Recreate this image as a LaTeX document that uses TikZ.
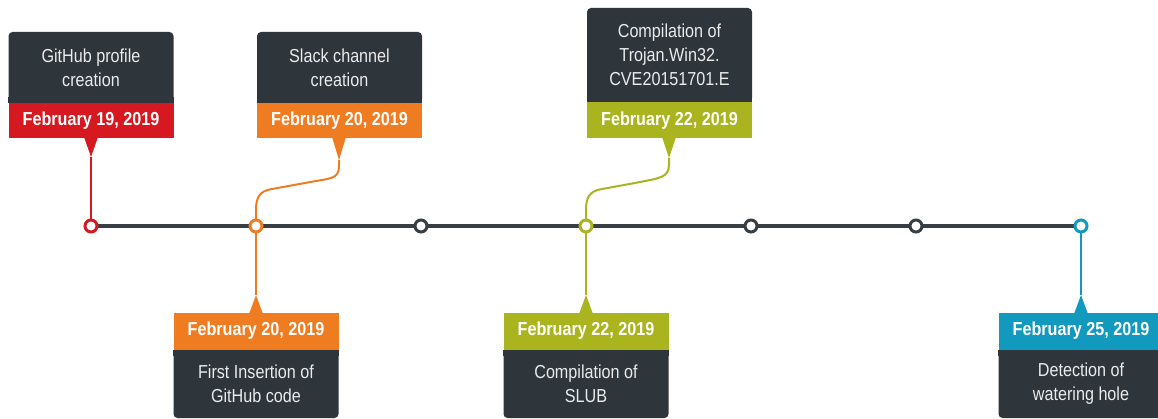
\documentclass[tikz,border=0pt]{standalone}
\usepackage{fontspec}
\setmainfont{Liberation Sans}[FakeStretch=0.86]
\definecolor{boxdark}{RGB}{46,53,59}
\definecolor{linedark}{RGB}{55,62,68}
\definecolor{cred}{RGB}{214,24,32}
\definecolor{corange}{RGB}{240,124,34}
\definecolor{cgreen}{RGB}{170,180,30}
\definecolor{cblue}{RGB}{18,154,190}
\definecolor{ctext}{RGB}{235,235,235}
\begin{document}
\begin{tikzpicture}[x=1pt,y=-1pt,
  darkbox/.style={fill=boxdark, rounded corners=4pt, minimum width=165pt, inner sep=0pt,
    text=ctext, align=center, font=\fontsize{18.8}{24}\selectfont},
  band/.style={fill=#1, minimum width=165pt, inner sep=0pt, text=white,
    font=\bfseries\fontsize{18.8}{22}\selectfont},
  dot/.style={circle, draw=#1, fill=white, line width=3pt, minimum size=12pt, inner sep=0pt},
  conn/.style={draw=#1, line width=2pt},
  ptr/.style={fill=#1}]
\useasboundingbox (0,0) rectangle (1158,419);
\clip (0,0) rectangle (1158,419);

% timeline dots (coordinates)
\coordinate (c1p) at (91,226);
\coordinate (c7p) at (1081,226);
\draw[linedark, line width=3.2pt] (c1p) -- (c7p);

% pointer tips
\coordinate (p1) at (91,157);
\coordinate (p2) at (339,160);
\coordinate (p3) at (669,158);
\coordinate (p4) at (256,295);
\coordinate (p5) at (586,295);
\coordinate (p6) at (1081,295);

% connectors
\draw[conn=cred] (p1) -- (c1p);
\draw[conn=corange] (p2) -- ++(0,6) .. controls +(0,14) and (330,178) .. (305,183)
   -- (272,189) .. controls (259,191) and (256,198) .. (256,210) -- (256,226);
\draw[conn=cgreen] (p3) -- ++(0,6) .. controls +(0,14) and (660,178) .. (635,183)
   -- (602,189) .. controls (589,191) and (586,198) .. (586,210) -- (586,226);
\draw[conn=corange] (256,226) -- (p4);
\draw[conn=cgreen] (586,226) -- (p5);
\draw[conn=cblue] (c7p) -- (p6);

% dots
\node[dot=cred] (c1) at (c1p) {};
\node[dot=corange] (c2) at (256,226) {};
\node[dot=linedark] (c3) at (421,226) {};
\node[dot=cgreen] (c4) at (586,226) {};
\node[dot=linedark] (c5) at (751,226) {};
\node[dot=linedark] (c6) at (916,226) {};
\node[dot=cblue] (c7) at (c7p) {};

% top box 1
\fill[ptr=cred] (84,137) -- (98,137) -- (p1) -- cycle;
\node[darkbox, minimum height=71pt] (t1) at (91,67.5) {GitHub profile\\creation};
\fill[boxdark] (t1.south west) rectangle ([yshift=6pt]t1.south east);
\node[band=cred, minimum height=35pt, anchor=north] (d1) at (t1.south) {February 19, 2019};

% top box 2
\fill[ptr=corange] (332,137) -- (346,137) -- (p2) -- cycle;
\node[darkbox, minimum height=71pt] (t2) at (339.5,67.5) {Slack channel\\creation};
\fill[boxdark] (t2.south west) rectangle ([yshift=6pt]t2.south east);
\node[band=corange, minimum height=35pt, anchor=north] (d2) at (t2.south) {February 20, 2019};

% top box 3
\fill[ptr=cgreen] (662,137) -- (676,137) -- (p3) -- cycle;
\node[darkbox, minimum height=94pt] (t3) at (669.5,55) {Compilation of\\Trojan.Win32.\\CVE20151701.E};
\fill[boxdark] (t3.south west) rectangle ([yshift=6pt]t3.south east);
\node[band=cgreen, minimum height=36pt, anchor=north] (d3) at (t3.south) {February 22, 2019};

% bottom box 4
\fill[ptr=corange] (249,314) -- (263,314) -- (p4) -- cycle;
\node[darkbox, minimum height=68pt] (b4) at (256,384) {First Insertion of\\GitHub code};
\fill[boxdark] (b4.north west) rectangle ([yshift=-6pt]b4.north east);
\node[band=corange, minimum height=37pt, anchor=south] (e4) at (b4.north) {February 20, 2019};

% bottom box 5
\fill[ptr=cgreen] (579,314) -- (593,314) -- (p5) -- cycle;
\node[darkbox, minimum height=68pt] (b5) at (586,384) {Compilation of\\SLUB};
\fill[boxdark] (b5.north west) rectangle ([yshift=-6pt]b5.north east);
\node[band=cgreen, minimum height=37pt, anchor=south] (e5) at (b5.north) {February 22, 2019};

% bottom box 6
\fill[ptr=cblue] (1074,314) -- (1088,314) -- (p6) -- cycle;
\node[darkbox, minimum height=68pt] (b6) at (1081,384) {Detection of\\watering hole};
\fill[boxdark] (b6.north west) rectangle ([yshift=-6pt]b6.north east);
\node[band=cblue, minimum height=37pt, anchor=south] (e6) at (b6.north) {February 25, 2019};
\end{tikzpicture}
\end{document}
